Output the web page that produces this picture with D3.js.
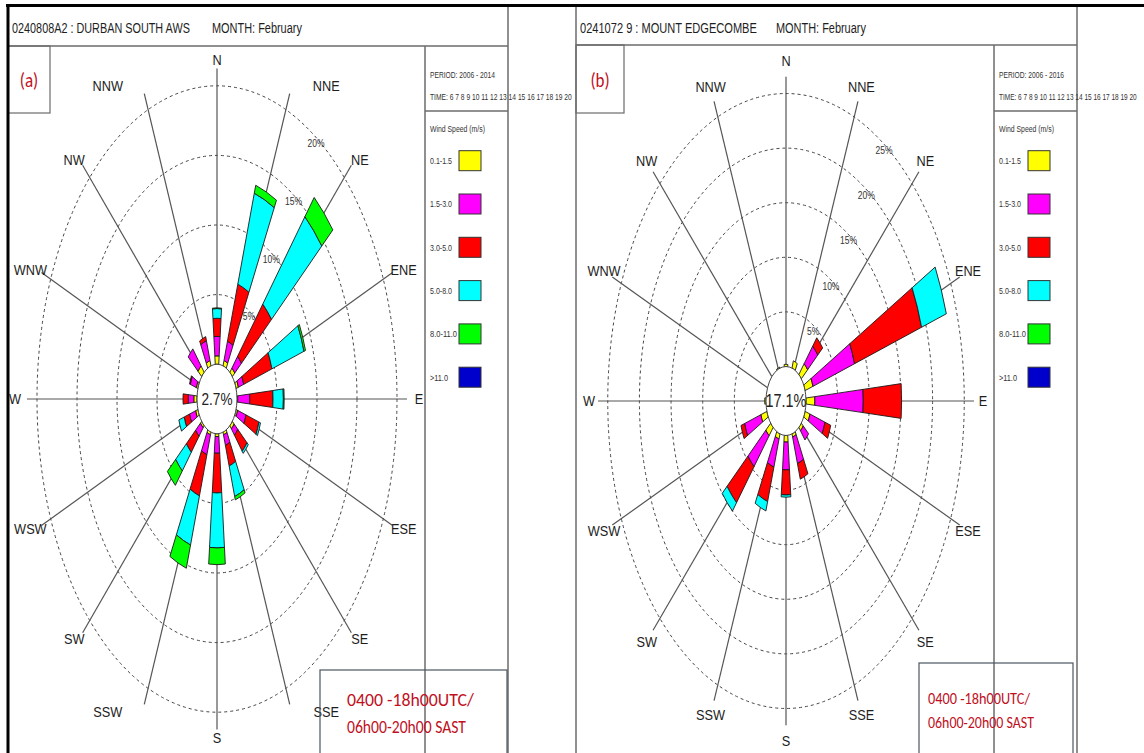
<!DOCTYPE html>
<html>
<head>
<meta charset="utf-8">
<script src="https://cdn.jsdelivr.net/npm/d3@7"></script>
<style>
  body { margin: 0; background: #fff; }
  svg { display: block; }
</style>
</head>
<body>
<svg id="chart" width="1144" height="753"></svg>
<script>
// ---- shared categories ----
const directions = ["N","NNE","NE","ENE","E","ESE","SE","SSE","S","SSW","SW","WSW","W","WNW","NW","NNW"];
const speedBins = ["0.1-1.5","1.5-3.0","3.0-5.0","5.0-8.0","8.0-11.0",">11.0"];
const speedColors = ["#ffff00","#ff00ff","#ff0000","#00ffff","#00ff00","#0000cc"];
const timeLabel = "TIME: 6 7 8 9 10 11 12 13 14 15 16 17 18 19 20";
const windowLines = ["0400 -18h00UTC/", "06h00-20h00 SAST"];

// ---- (a) Durban South AWS, February: frequency (%) per direction, per speed class ----
const durbanTitle = "0240808A2 : DURBAN SOUTH AWS";
const durbanPeriod = "PERIOD: 2006 - 2014";
const durbanCalm = 2.7;
const durbanRings = [5, 10, 15, 20];
//                   N    NNE   NE   ENE   E    ESE  SE   SSE   S    SSW   SW   WSW  W    WNW  NW   NNW
const durban_0_1 = [0.6, 0.4, 0.4, 0.3, 0.1, 0.2, 0.3, 0.2, 0.2, 0.2, 0.2, 0.3, 0.4, 0.2, 0.6, 0.4];
const durban_1_3 = [1.4, 1.45,1.1, 0.7, 1.5, 1.1, 0.6, 0.8, 1.2, 1.5, 0.8, 0.8, 0.7, 0.8, 1.6, 1.5];
const durban_3_5 = [1.3, 4.3, 4.9, 3.7, 2.9, 1.7, 1.5, 1.55,2.85,3.1, 1.5, 0.7, 0.65,0.1, 0,   0.3];
const durban_5_8 = [0.7, 6.85,8.2, 4.2, 1.3, 0.2, 0.2, 2.3, 3.95,3.7, 1.75,0.7, 0,   0,   0,   0  ];
const durban_8_11= [0.05,0.6, 1.8, 0.2, 0.1, 0,   0,   0.25,1.2, 1.75,1.35,0,   0,   0,   0,   0  ];
const durban_11p = [0,   0,   0,   0,   0,   0,   0,   0,   0,   0,   0,   0,   0,   0,   0,   0  ];

// ---- (b) Mount Edgecombe, February ----
const edgeTitle = "0241072 9 : MOUNT EDGECOMBE";
const edgePeriod = "PERIOD: 2006 - 2016";
const edgeCalm = 17.1;
const edgeRings = [5, 10, 15, 20, 25];
//                 N    NNE  NE   ENE   E    ESE   SE   SSE   S    SSW  SW   WSW  W    WNW  NW   NNW
const edge_0_1 = [0.2, 0.7, 1.3, 1.3, 1.4, 0.8, 0.4, 0.3, 0.6, 0.5, 1.0, 1.0, 0.2, 0,   0,   0.1];
const edge_1_3 = [0,   0,   2.1, 6.9, 7.65,2.5, 1.1, 2.55,2.55,2.7, 3.7, 2.7, 0,   0,   0,   0  ];
const edge_3_5 = [0,   0,   1.0, 11.1,6.05,0.95,0,   1.5, 2.3, 3.3, 4.3, 0.6, 0,   0,   0,   0  ];
const edge_5_8 = [0,   0,   0,   4.1, 0,   0,   0,   0,   0.2, 0.9, 1.0, 0,   0,   0,   0,   0  ];
const edge_8_11= [0,   0,   0,   0,   0,   0,   0,   0,   0,   0,   0,   0,   0,   0,   0,   0  ];
const edge_11p = [0,   0,   0,   0,   0,   0,   0,   0,   0,   0,   0,   0,   0,   0,   0,   0  ];

const sansFont = "'Liberation Sans',Arial,sans-serif";
const calibriLike = "Carlito,Calibri,'Open Sans','Liberation Sans',sans-serif";
const darkRed = "#c0101e";
const frameGrey = "#6b6b6b";

const svg = d3.select("#chart");

// Text helper: condensed look via a horizontal scale; with `width` the text is fitted to that width.
function placeText(parent, txt, x, y, o) {
  const t = parent.append("text").text(txt)
    .attr("font-family", o.family || sansFont)
    .attr("font-size", o.size)
    .attr("fill", o.fill || "#1e1e1e")
    .attr("text-anchor", o.anchor || "start")
    .attr("dy", o.dy == null ? "0.35em" : o.dy);
  let sx = o.sx || 1;
  if (o.width) sx = o.width / t.node().getComputedTextLength();
  t.attr("transform", `translate(${x},${y}) scale(${sx},1)`);
  return t;
}

function buildRows(series) {
  return directions.map((dir, i) => {
    const row = { dir };
    speedBins.forEach((b, j) => { row[b] = series[j][i]; });
    return row;
  });
}

function drawRose(cfg) {
  const { cx, cy, k, hole, pxPerPct, rings, axisLen, labelRx, labelRy, labelShift, rows, calm } = cfg;
  const r = d3.scaleLinear().domain([0, 25]).range([hole, hole + 25 * pxPerPct]);
  const angle = d3.scaleBand().domain(directions).range([0, 2 * Math.PI]);
  const dirAngle = d => angle(d); // band start == compass bearing of the direction
  const half = 5 * Math.PI / 180;

  const g = svg.append("g").attr("transform", `translate(${cx},${cy})`);

  // dashed percentage rings
  g.append("g").selectAll("ellipse").data(rings).join("ellipse")
    .attr("rx", d => r(d)).attr("ry", d => r(d) * k)
    .attr("fill", "none").attr("stroke", "#444").attr("stroke-width", 1)
    .attr("stroke-dasharray", "3,3");

  // spokes
  g.append("g").selectAll("line").data(directions).join("line")
    .attr("x1", d => Math.sin(dirAngle(d)) * hole)
    .attr("y1", d => -Math.cos(dirAngle(d)) * hole * k)
    .attr("x2", d => Math.sin(dirAngle(d)) * axisLen)
    .attr("y2", d => -Math.cos(dirAngle(d)) * axisLen * k)
    .attr("stroke", "#555").attr("stroke-width", 1.2);

  // stacked speed-class wedges, drawn on a round grid and stretched vertically
  const stacked = d3.stack().keys(speedBins)(rows);
  const arc = d3.arc()
    .innerRadius(d => r(d[0]))
    .outerRadius(d => r(d[1]))
    .startAngle(d => dirAngle(d.data.dir) - half)
    .endAngle(d => dirAngle(d.data.dir) + half);
  const bars = g.append("g").attr("transform", `scale(1,${k})`);
  stacked.forEach((layer, j) => {
    bars.append("g").selectAll("path")
      .data(layer.filter(d => d[1] - d[0] > 0))
      .join("path")
      .attr("d", arc)
      .attr("fill", speedColors[j])
      .attr("stroke", "#1a1a1a")
      .attr("stroke-width", 0.9)
      .attr("vector-effect", "non-scaling-stroke");
  });

  // calm circle
  g.append("ellipse").attr("rx", hole).attr("ry", hole * k)
    .attr("fill", "#fff").attr("stroke", "#444").attr("stroke-width", 1);
  placeText(g, calm.toFixed(1) + "%", 0, 0, { size: cfg.calmSize, anchor: "middle", sx: 0.8, fill: "#222" });

  // ring labels along a fixed bearing
  const ra = 34 * Math.PI / 180;
  rings.forEach(v => {
    placeText(g, v + "%", Math.sin(ra) * (r(v) - 3), -Math.cos(ra) * (r(v) - 3) * k,
      { size: 10, anchor: "middle", sx: 0.85, fill: "#333" });
  });

  // compass labels; those beside the near-vertical spokes are nudged clear of the line
  directions.forEach(d => {
    const a = dirAngle(d);
    const s = Math.sin(a);
    const nudge = (d.length === 3 && (d[0] === "N" || d[0] === "S")) ? Math.sign(s) * labelShift : 0;
    placeText(g, d, s * labelRx + nudge, -Math.cos(a) * labelRy, { size: 15, anchor: "middle", sx: 0.85 });
  });
}

function drawFrame(p) {
  const f = svg.append("g");
  // title strip
  f.append("line").attr("x1", p.left).attr("x2", p.right).attr("y1", p.titleBottom).attr("y2", p.titleBottom)
    .attr("stroke", frameGrey).attr("stroke-width", 1.5);
  f.append("line").attr("x1", p.right).attr("x2", p.right).attr("y1", 5).attr("y2", 753)
    .attr("stroke", frameGrey).attr("stroke-width", 1.5);
  placeText(f, p.title, p.left + 4, 33, { size: 15, width: p.titleLen, dy: 0 });
  placeText(f, "MONTH: February", p.monthX, 33, { size: 15, width: 90, dy: 0 });

  // panel tag box
  f.append("rect").attr("x", p.left).attr("y", p.titleBottom).attr("width", p.tagW).attr("height", 113 - p.titleBottom)
    .attr("fill", "none").attr("stroke", frameGrey).attr("stroke-width", 1.2);
  placeText(f, p.tag, p.left + p.tagW / 2, 80, { size: 20, anchor: "middle", family: calibriLike, fill: darkRed, sx: 0.85 });

  // legend column
  const lx = p.legendX;
  f.append("line").attr("x1", lx).attr("x2", lx).attr("y1", p.titleBottom).attr("y2", 753)
    .attr("stroke", frameGrey).attr("stroke-width", 1.5);
  f.append("line").attr("x1", lx).attr("x2", p.right).attr("y1", 111).attr("y2", 111)
    .attr("stroke", frameGrey).attr("stroke-width", 1.5);
  const small = (txt, y, w) => placeText(f, txt, lx + 5, y, { size: 9.5, width: w, fill: "#333" });
  small(p.period, 75, 65);
  small(timeLabel, 97, p.timeLen);
  small("Wind Speed (m/s)", 129, 55);
  speedBins.forEach((b, j) => {
    const y = 160.7 + j * 43.3;
    small(b, y, b.length > 7 ? 27 : (b.length > 5 ? 22 : 18));
    f.append("rect").attr("x", lx + 34).attr("y", y - 10).attr("width", 22).attr("height", 20)
      .attr("fill", speedColors[j]).attr("stroke", "#333").attr("stroke-width", 1);
  });

  // observation window box
  f.append("rect").attr("x", p.boxX).attr("y", p.boxY).attr("width", p.boxW).attr("height", 760 - p.boxY)
    .attr("fill", "none").attr("stroke", "#4a5560").attr("stroke-width", 1.2);
  windowLines.forEach((s, i) => {
    placeText(f, s, p.boxTextX, p.boxTextY[i],
      { size: p.boxFont, width: p.boxTextLen[i], family: calibriLike, fill: darkRed });
  });
}

// ---- draw panels ----
drawRose({
  cx: 217, cy: 399, k: 1.74, hole: 20, pxPerPct: 8, rings: durbanRings,
  axisLen: 190, labelRx: 202, labelRy: 339, labelShift: 32, calmSize: 17,
  rows: buildRows([durban_0_1, durban_1_3, durban_3_5, durban_5_8, durban_8_11, durban_11p]),
  calm: durbanCalm
});
drawRose({
  cx: 786, cy: 401, k: 1.725, hole: 20, pxPerPct: 6.33, rings: edgeRings,
  axisLen: 188, labelRx: 197, labelRy: 340, labelShift: 0, calmSize: 18,
  rows: buildRows([edge_0_1, edge_1_3, edge_3_5, edge_5_8, edge_8_11, edge_11p]),
  calm: edgeCalm
});

drawFrame({
  left: 8, right: 508, titleBottom: 46, title: durbanTitle, titleLen: 178, monthX: 212,
  tag: "(a)", tagW: 42, legendX: 425, period: durbanPeriod, timeLen: 142,
  boxX: 320, boxY: 670, boxW: 187, boxTextX: 347, boxTextY: [700, 727], boxTextLen: [127, 119], boxFont: 18
});
drawFrame({
  left: 576, right: 1077, titleBottom: 45, title: edgeTitle, titleLen: 177, monthX: 776,
  tag: "(b)", tagW: 48, legendX: 994, period: edgePeriod, timeLen: 138,
  boxX: 919, boxY: 663, boxW: 154, boxTextX: 928, boxTextY: [698, 722], boxTextLen: [102, 106], boxFont: 17
});

// panel b left edge and the heavy outer border
svg.append("line").attr("x1", 576).attr("x2", 576).attr("y1", 5).attr("y2", 753)
  .attr("stroke", frameGrey).attr("stroke-width", 1.5);
svg.append("line").attr("x1", 6).attr("x2", 1144).attr("y1", 5.5).attr("y2", 5.5)
  .attr("stroke", "#000").attr("stroke-width", 3);
svg.append("line").attr("x1", 8).attr("x2", 8).attr("y1", 4).attr("y2", 753)
  .attr("stroke", "#000").attr("stroke-width", 3);
</script>
</body>
</html>
